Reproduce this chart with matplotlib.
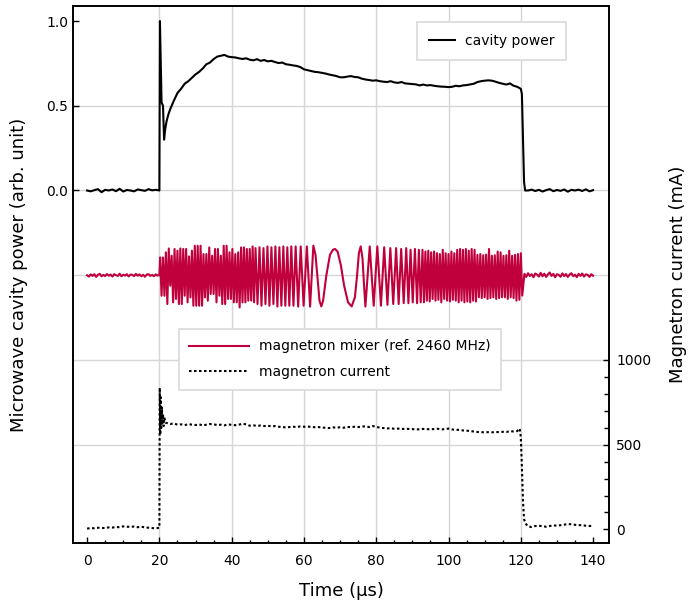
import numpy as np
import matplotlib.pyplot as plt

# ---- data ----
# cavity power (arb. unit)
t_cav_pre = np.arange(0, 20, 1)
cav_pre = [0.0, -0.005, 0.002, 0.008, -0.01, 0.004, 0.0, 0.006, -0.004, 0.01,
           -0.006, 0.003, 0.0, -0.005, 0.006, 0.002, -0.002, 0.008, 0.001, 0.004]
t_cav_rise = [20.0, 20.15, 20.6, 21.0, 21.3, 21.6, 22.0, 22.5, 23.0]
cav_rise = [0.0, 1.0, 0.52, 0.50, 0.30, 0.36, 0.41, 0.45, 0.48]
t_cav_main = np.arange(24, 121, 1)
cav_main = [0.53, 0.575, 0.60, 0.63, 0.645, 0.665, 0.685, 0.70, 0.72, 0.745,
            0.755, 0.775, 0.79, 0.795, 0.80, 0.79, 0.787, 0.785, 0.78, 0.776,
            0.78, 0.772, 0.768, 0.775, 0.765, 0.77, 0.762, 0.765, 0.758, 0.752,
            0.755, 0.745, 0.742, 0.738, 0.735, 0.728, 0.715, 0.71, 0.705, 0.70,
            0.698, 0.694, 0.69, 0.684, 0.68, 0.675, 0.668, 0.668, 0.672, 0.675,
            0.67, 0.668, 0.66, 0.655, 0.652, 0.648, 0.65, 0.645, 0.642, 0.64,
            0.645, 0.638, 0.635, 0.64, 0.632, 0.63, 0.628, 0.626, 0.62, 0.625,
            0.62, 0.622, 0.618, 0.615, 0.613, 0.612, 0.61, 0.612, 0.618, 0.615,
            0.62, 0.622, 0.626, 0.63, 0.64, 0.645, 0.648, 0.65, 0.648, 0.642,
            0.635, 0.63, 0.625, 0.632, 0.618, 0.612, 0.60]
t_cav_fall = [120.3, 120.6, 120.9, 121.2]
cav_fall = [0.57, 0.30, 0.05, 0.0]
t_cav_post = np.arange(122, 141, 1)
cav_post = [0.0, 0.005, -0.003, 0.004, -0.006, 0.002, 0.008, -0.004, 0.003, -0.002,
            0.006, -0.007, 0.004, 0.0, 0.005, -0.003, 0.007, -0.005, 0.002]

# magnetron mixer signal (arb. unit, drawn 0.5 below cavity power)
t_mix_pre = np.arange(0, 20.01, 0.5)
mix_pre = [0.0, -0.008, 0.005, -0.004, 0.006, -0.01, 0.003, 0.008, -0.006, 0.002,
           -0.005, 0.007, -0.003, 0.004, -0.008, 0.006, 0.0, -0.004, 0.009, -0.006,
           0.003, -0.002, 0.006, -0.007, 0.004, 0.002, -0.005, 0.008, -0.003, 0.005,
           -0.006, 0.003, -0.009, 0.004, 0.006, -0.004, 0.002, -0.006, 0.005, -0.002,
           0.0]
t_mix_a = np.linspace(20.2, 46.2, 66)
mix_a_peaks = [0.105, 0.105, 0.135, 0.158, 0.115, 0.155, 0.145, 0.158, 0.155, 0.155,
               0.111, 0.145, 0.174, 0.174, 0.174, 0.125, 0.125, 0.164, 0.115, 0.155,
               0.155, 0.115, 0.174, 0.174, 0.135, 0.155, 0.125, 0.135, 0.164, 0.164,
               0.155, 0.155, 0.17]
mix_a_troughs = [-0.121, -0.121, -0.17, -0.062, -0.16, -0.14, -0.17, -0.17, -0.121, -0.16,
                 -0.131, -0.18, -0.18, -0.18, -0.18, -0.131, -0.15, -0.111, -0.111, -0.16,
                 -0.121, -0.17, -0.17, -0.14, -0.14, -0.16, -0.16, -0.19, -0.16, -0.16,
                 -0.15, -0.15, -0.16]
t_mix_b = [46.6, 47.15, 47.7, 48.25, 48.8, 49.35, 49.9, 50.45, 51.0, 51.55,
           52.1, 52.65, 53.2, 53.75, 54.3, 54.85, 55.4, 55.95, 56.5, 57.1,
           57.7, 58.4, 59.1, 59.9, 60.8, 61.7, 62.6, 63.2, 63.7, 64.3,
           64.8, 65.3, 66.2, 67.2, 68.0, 68.6, 69.3, 70.2, 71.1, 72.2,
           73.2, 74.1, 74.7, 75.2, 75.7, 76.2, 76.6, 77.0, 78.2, 79.3,
           80.3, 81.3, 82.2, 83.1, 83.9, 84.7, 85.5, 86.2, 86.9, 87.6,
           88.3, 88.9, 89.5, 90.1, 90.7, 91.3, 91.8, 92.3]
mix_b = [0.16, -0.17, 0.165, -0.18, 0.16, -0.17, 0.17, -0.18, 0.165, -0.17,
         0.17, -0.185, 0.165, -0.18, 0.17, -0.18, 0.165, -0.18, 0.17, -0.18,
         0.17, -0.185, 0.17, -0.18, 0.17, -0.185, 0.174, 0.12, 0.0, -0.15,
         -0.184, -0.15, 0.0, 0.12, 0.15, 0.155, 0.14, 0.06, -0.06, -0.16,
         -0.184, -0.13, 0.0, 0.13, 0.17, 0.10, -0.05, -0.185, 0.17, -0.18,
         0.17, -0.18, 0.165, -0.175, 0.16, -0.17, 0.16, -0.17, 0.155, -0.165,
         0.16, -0.165, 0.15, -0.16, 0.155, -0.165, 0.15, -0.16]
t_mix_c = np.linspace(92.8, 120.4, 70)
mix_c_peaks = [0.15, 0.14, 0.145, 0.135, 0.14, 0.13, 0.125, 0.15, 0.13, 0.125,
               0.14, 0.13, 0.15, 0.155, 0.15, 0.155, 0.145, 0.155, 0.15, 0.12,
               0.125, 0.118, 0.122, 0.155, 0.115, 0.118, 0.14, 0.135, 0.115, 0.118,
               0.145, 0.115, 0.12, 0.125, 0.13]
mix_c_troughs = [-0.16, -0.15, -0.155, -0.14, -0.15, -0.145, -0.16, -0.14, -0.15, -0.155,
                 -0.145, -0.15, -0.16, -0.15, -0.16, -0.155, -0.16, -0.15, -0.155, -0.13,
                 -0.135, -0.13, -0.14, -0.135, -0.13, -0.14, -0.135, -0.13, -0.13, -0.14,
                 -0.13, -0.135, -0.15, -0.145, -0.12]
t_mix_post = np.arange(121.0, 140.5, 0.5)
mix_post = [0.008, -0.01, 0.012, -0.004, 0.006, -0.012, 0.01, 0.004, -0.008, 0.014,
            -0.006, 0.009, -0.01, 0.005, 0.016, -0.004, 0.008, -0.012, 0.006, 0.002,
            -0.009, 0.011, -0.005, 0.007, -0.01, 0.004, 0.012, -0.006, 0.003, -0.011,
            0.008, -0.004, 0.01, -0.008, 0.005, 0.002, -0.01, 0.006, -0.003]

# magnetron current (mA)
t_cur_pre = np.arange(0, 20, 1)
cur_pre = [5, 8, 7, 10, 9, 8, 12, 11, 14, 13, 18, 16, 15, 17, 13, 16, 12, 10, 8, 6]
t_cur_rise = [20.0, 20.1, 20.25, 20.4, 20.55, 20.7, 20.85, 21.0, 21.2, 21.4, 21.7]
cur_rise = [10, 835, 560, 780, 600, 720, 620, 680, 610, 660, 630]
t_cur_main = np.arange(22, 120, 1)
cur_main = [628, 622, 626, 618, 620, 615, 622, 618, 616, 620,
            614, 618, 622, 620, 616, 618, 614, 620, 617, 615,
            618, 624, 620, 612, 614, 611, 613, 610, 612, 608,
            610, 606, 604, 602, 604, 606, 604, 608, 606, 607,
            605, 603, 604, 601, 600, 598, 602, 600, 603, 600,
            605, 603, 606, 604, 606, 609, 604, 610, 606, 600,
            598, 596, 597, 594, 595, 592, 594, 593, 592, 590,
            591, 593, 592, 591, 592, 594, 590, 592, 595, 590,
            587, 588, 584, 583, 580, 578, 575, 574, 573, 574,
            573, 575, 574, 576, 575, 580, 578, 580]
t_cur_fall = [119.7, 120.0, 120.3, 120.6, 120.9, 121.3]
cur_fall = [595, 545, 370, 170, 60, 35]
t_cur_post = np.arange(122, 141, 1)
cur_post = [18, 14, 20, 22, 19, 16, 20, 24, 22, 25, 28, 32, 30, 27, 26, 24, 22, 20, 22]

t_cav = np.concatenate([t_cav_pre, t_cav_rise, t_cav_main, t_cav_fall, t_cav_post])
cavity = np.concatenate([cav_pre, cav_rise, cav_main, cav_fall, cav_post])

mix_a = np.column_stack([mix_a_peaks, mix_a_troughs]).ravel()
mix_c = np.column_stack([mix_c_peaks, mix_c_troughs]).ravel()
t_mix = np.concatenate([t_mix_pre, t_mix_a, t_mix_b, t_mix_c, t_mix_post])
mixer = np.concatenate([mix_pre, mix_a, mix_b, mix_c, mix_post])

t_cur = np.concatenate([t_cur_pre, t_cur_rise, t_cur_main, t_cur_fall, t_cur_post])
current = np.concatenate([cur_pre, cur_rise, cur_main, cur_fall, cur_post])

red = '#c0003c'
gridc = '#d6d6d6'

fig, ax = plt.subplots(figsize=(6.9, 6.09), dpi=100)
fig.subplots_adjust(left=0.1058, right=0.8826, bottom=0.1084, top=0.9901)

for g in [-1.5, -1.0, -0.5, 0.0, 0.5]:
    ax.axhline(g, color=gridc, lw=1, zorder=0)
for g in range(20, 121, 20):
    ax.axvline(g, color=gridc, lw=1, zorder=0)

l_cav, = ax.plot(t_cav, cavity, color='black', lw=1.5, label='cavity power')
l_mix, = ax.plot(t_mix, mixer - 0.5, color=red, lw=1.5)

ax.set_xlim(-3.9, 144.4)
ax.set_ylim(-2.08, 1.0885)
ax.set_xticks(range(0, 141, 20))
ax.set_xticks(range(0, 141, 5), minor=True)
ax.set_yticks([0.0, 0.5, 1.0])
ax.set_yticklabels(['0.0', '0.5', '1.0'])
ax.tick_params(axis='both', which='both', direction='in', labelsize=10, width=1)
ax.tick_params(axis='both', which='major', length=4)
ax.tick_params(axis='x', which='minor', length=2.5)
ax.tick_params(axis='x', which='both', pad=8)
ax.set_xlabel('Time (µs)', fontsize=13, labelpad=10)
ax.set_ylabel('Microwave cavity power (arb. unit)', fontsize=13, labelpad=13)

ax2 = ax.twinx()
l_cur, = ax2.plot(t_cur, current, color='black', lw=1.5, linestyle=(0, (1.2, 1.2)))
ax2.set_ylim(-80, 3088.5)
ax2.set_yticks([0, 500, 1000])
ax2.set_yticks(range(0, 1001, 100), minor=True)
ax2.tick_params(axis='y', which='both', direction='in', labelsize=10, width=1, pad=5)
ax2.tick_params(axis='y', which='major', length=4)
ax2.tick_params(axis='y', which='minor', length=3.5)
ax2.set_ylabel('Magnetron current (mA)', fontsize=13, labelpad=13)

for a in (ax, ax2):
    for s in a.spines.values():
        s.set_linewidth(1.2)

leg1 = ax.legend(handles=[l_cav], loc='upper right', bbox_to_anchor=(0.9198, 0.9702),
                 borderaxespad=0, fancybox=False, edgecolor='#dcdcdc', framealpha=1,
                 fontsize=10, borderpad=0.85, handlelength=1.9, handletextpad=0.7)
leg1.get_frame().set_linewidth(1.3)
leg2 = ax2.legend([l_mix, l_cur], ['magnetron mixer (ref. 2460 MHz)', 'magnetron current'],
                  loc='upper left', bbox_to_anchor=(0.1978, 0.3985), borderaxespad=0,
                  fancybox=False, edgecolor='#dcdcdc', framealpha=1, fontsize=10,
                  borderpad=0.75, labelspacing=0.85, handlelength=4.3, handletextpad=0.7)
leg2.get_frame().set_linewidth(1.3)

plt.savefig('out.png', dpi=100)
